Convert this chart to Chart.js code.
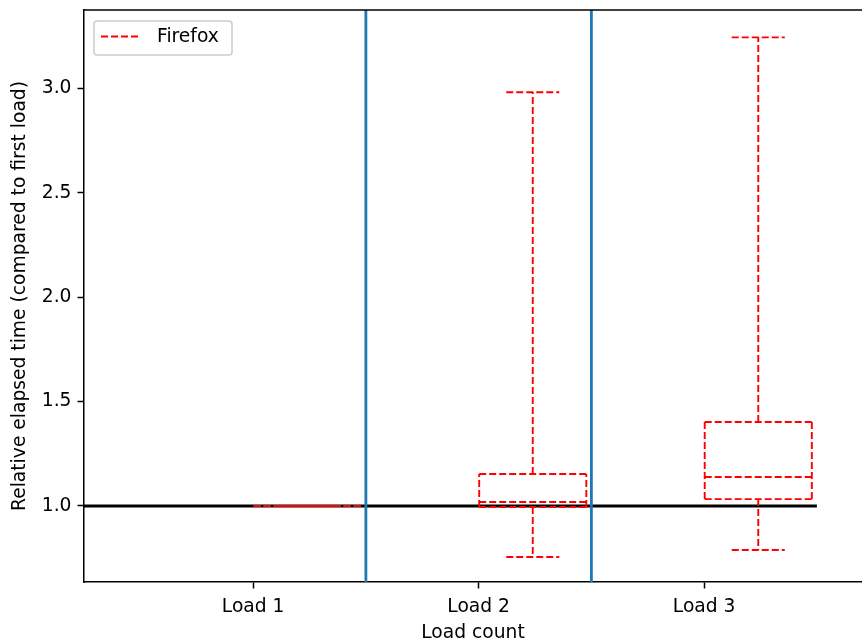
<!DOCTYPE html>
<html>
<head>
<meta charset="utf-8">
<script src="https://cdn.jsdelivr.net/npm/chart.js@4"></script>
<style>
  body { margin: 0; background: #fff; }
</style>
</head>
<body>
<canvas id="myChart" width="862" height="644"></canvas>
<script>
// box statistics per load (relative to first load)
const categories = ["Load 1", "Load 2", "Load 3"];
const lowerWhisker = [1.0, 0.756, 0.789];
const lowerQuartile = [1.0, 0.995, 1.033];
const medians = [1.0, 1.019, 1.139];
const upperQuartile = [1.0, 1.153, 1.402];
const upperWhisker = [1.0, 2.981, 3.244];
const yTicks = [1.0, 1.5, 2.0, 2.5, 3.0];
const separators = [1.5, 2.5];
const baseline = 1.0;
const seriesName = "Firefox";

const Y_MIN = 0.636, Y_MAX = 3.375;
const X_MIN = 0.25, X_MAX = 3.70;
const BOX_SHIFT = 0.24, BOX_HALF = 0.2375, CAP_HALF = 0.1175;

const RED = "#ff0000";
const DASH = [7, 3];
const FONT = "DejaVu Sans";

Chart.defaults.font.family = FONT;
Chart.defaults.font.size = 18.7;
Chart.defaults.color = "#000";

function seg(points, order) {
  return {
    data: points,
    showLine: true,
    borderColor: RED,
    borderWidth: 1.9,
    borderDash: DASH,
    pointRadius: 0,
    fill: false,
    order: order,
  };
}

const datasets = [];
categories.forEach((c, i) => {
  const cx = i + 1 + BOX_SHIFT;
  const l = cx - BOX_HALF, r = cx + BOX_HALF;
  // box edges, horizontals drawn left to right
  datasets.push(seg([{ x: l, y: lowerQuartile[i] }, { x: r, y: lowerQuartile[i] }], 1));
  datasets.push(seg([{ x: l, y: upperQuartile[i] }, { x: r, y: upperQuartile[i] }], 1));
  datasets.push(seg([{ x: l, y: lowerQuartile[i] }, { x: l, y: upperQuartile[i] }], 1));
  datasets.push(seg([{ x: r, y: lowerQuartile[i] }, { x: r, y: upperQuartile[i] }], 1));
  // median
  datasets.push(seg([{ x: l, y: medians[i] }, { x: r, y: medians[i] }], 1));
  // whiskers
  datasets.push(seg([{ x: cx, y: upperQuartile[i] }, { x: cx, y: upperWhisker[i] }], 1));
  datasets.push(seg([{ x: cx, y: lowerQuartile[i] }, { x: cx, y: lowerWhisker[i] }], 1));
  // caps
  datasets.push(seg([{ x: cx - CAP_HALF, y: upperWhisker[i] }, { x: cx + CAP_HALF, y: upperWhisker[i] }], 1));
  datasets.push(seg([{ x: cx - CAP_HALF, y: lowerWhisker[i] }, { x: cx + CAP_HALF, y: lowerWhisker[i] }], 1));
});

// vertical separators between loads
separators.forEach((s) => {
  datasets.push({
    data: [{ x: s, y: Y_MIN }, { x: s, y: Y_MAX }],
    showLine: true,
    borderColor: "#1f77b4",
    borderWidth: 2.8,
    pointRadius: 0,
    order: 2,
  });
});

// reference line at 1.0
datasets.push({
  data: [{ x: X_MIN, y: baseline }, { x: 3.5, y: baseline }],
  showLine: true,
  borderColor: "#000",
  borderWidth: 2.8,
  pointRadius: 0,
  order: 3,
});

const frameAndLegend = {
  id: "frameAndLegend",
  afterDraw(chart) {
    const { ctx, chartArea } = chart;
    ctx.save();
    // top spine
    ctx.strokeStyle = "#000";
    ctx.lineWidth = 1.5;
    ctx.beginPath();
    ctx.moveTo(chartArea.left, chartArea.top);
    ctx.lineTo(chartArea.right, chartArea.top);
    ctx.stroke();

    // legend box
    const bx = chartArea.left + 10, by = chartArea.top + 11, bw = 138, bh = 34, rad = 3;
    ctx.beginPath();
    ctx.roundRect(bx, by, bw, bh, rad);
    ctx.fillStyle = "rgba(255,255,255,0.8)";
    ctx.fill();
    ctx.strokeStyle = "#cccccc";
    ctx.lineWidth = 1.5;
    ctx.stroke();

    ctx.strokeStyle = RED;
    ctx.lineWidth = 1.9;
    ctx.setLineDash(DASH);
    ctx.beginPath();
    ctx.moveTo(bx + 7, by + 15.5);
    ctx.lineTo(bx + 47, by + 15.5);
    ctx.stroke();
    ctx.setLineDash([]);

    ctx.fillStyle = "#000";
    ctx.font = "18.7px '" + FONT + "'";
    ctx.textBaseline = "middle";
    ctx.textAlign = "left";
    ctx.fillText(seriesName, bx + 63, by + 16.5);
    ctx.restore();
  },
};

const myChart = new Chart(document.getElementById("myChart").getContext("2d"), {
  type: "scatter",
  data: { datasets: datasets },
  plugins: [frameAndLegend],
  options: {
    responsive: false,
    animation: false,
    layout: { padding: { top: 10, left: 0, right: 0, bottom: 0 } },
    plugins: {
      legend: { display: false },
      tooltip: { enabled: false },
    },
    scales: {
      x: {
        type: "linear",
        min: X_MIN,
        max: X_MAX,
        afterBuildTicks: (scale) => {
          scale.ticks = categories.map((c, i) => ({ value: i + 1 }));
        },
        afterFit: (scale) => {
          scale.height = 62;
          scale.paddingLeft = 0;
          scale.paddingRight = 0;
        },
        ticks: {
          padding: 7,
          maxRotation: 0,
          callback: (v) => categories[Math.round(v) - 1],
        },
        grid: {
          drawOnChartArea: false,
          tickLength: 6.5,
          tickColor: "#000",
          tickWidth: 1.5,
        },
        border: { color: "#000", width: 1.5 },
        title: {
          display: true,
          text: "Load count",
          padding: { top: 0, bottom: 0 },
        },
      },
      y: {
        min: Y_MIN,
        max: Y_MAX,
        afterBuildTicks: (scale) => {
          scale.ticks = yTicks.map((v) => ({ value: v }));
        },
        afterFit: (scale) => {
          scale.width = 84;
          scale.paddingTop = 0;
          scale.paddingBottom = 0;
        },
        ticks: {
          padding: 6,
          callback: (v) => v.toFixed(1),
        },
        grid: {
          drawOnChartArea: false,
          tickLength: 6.5,
          tickColor: "#000",
          tickWidth: 1.5,
        },
        border: { color: "#000", width: 1.5 },
        title: {
          display: true,
          text: "Relative elapsed time (compared to first load)",
          padding: { top: 9, bottom: 0 },
        },
      },
    },
  },
});
</script>
</body>
</html>
